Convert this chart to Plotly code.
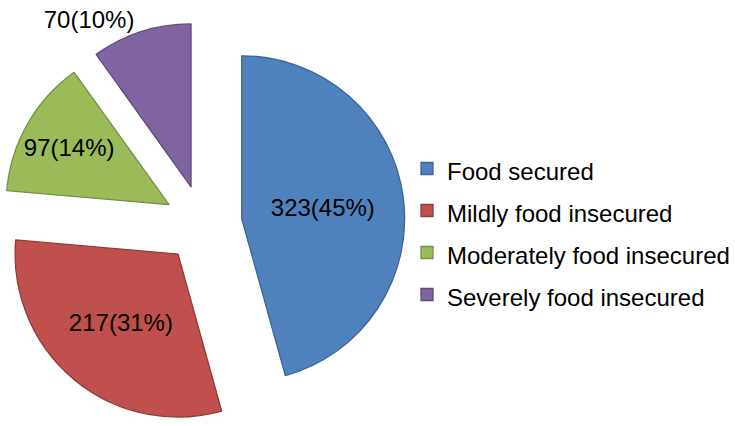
import plotly.graph_objects as go

categories = ["Food secured", "Mildly food insecured", "Moderately food insecured", "Severely food insecured"]
counts = [323, 217, 97, 70]
percent_labels = ["45%", "31%", "14%", "10%"]

fill_colors = ["#4F81BD", "#C0504D", "#9BBB59", "#8064A2"]
line_colors = ["#3A659A", "#8E3B39", "#74903F", "#5F4A7E"]

slice_text = [f"{c}({p})" for c, p in zip(counts, percent_labels)]
legend_labels = [f"<span style='font-size:24px'>{c}</span>" for c in categories]

W, H = 735, 426

fig = go.Figure(
    go.Pie(
        labels=legend_labels,
        values=counts,
        text=slice_text,
        textinfo="text",
        textposition=["inside", "inside", "inside", "outside"],
        insidetextorientation="horizontal",
        textfont=dict(family="Liberation Sans, Arial, sans-serif", size=24, color="#000000"),
        sort=False,
        direction="clockwise",
        rotation=0,
        pull=[0.24, 0.24, 0.24, 0.24],
        marker=dict(colors=fill_colors, line=dict(color=line_colors, width=1.3)),
        domain=dict(x=[0, 406 / W], y=[0, 404 / H]),
        hoverinfo="label+value",
        automargin=False,
    )
)

fig.update_layout(
    width=W,
    height=H,
    margin=dict(l=0, r=0, t=0, b=0, autoexpand=False),
    paper_bgcolor="white",
    plot_bgcolor="white",
    font=dict(family="Liberation Sans, Arial, sans-serif", color="#000000"),
    uniformtext=dict(minsize=24, mode="show"),
    showlegend=True,
    legend=dict(
        x=407 / W,
        xanchor="left",
        y=194.5 / H,
        yanchor="middle",
        font=dict(size=30, family="Liberation Sans, Arial, sans-serif", color="#000000"),
        bgcolor="rgba(0,0,0,0)",
        borderwidth=0,
    ),
)

fig.write_html(
    "out.html",
    config={"displayModeBar": False},
    post_script="document.body.style.margin='0';",
)
